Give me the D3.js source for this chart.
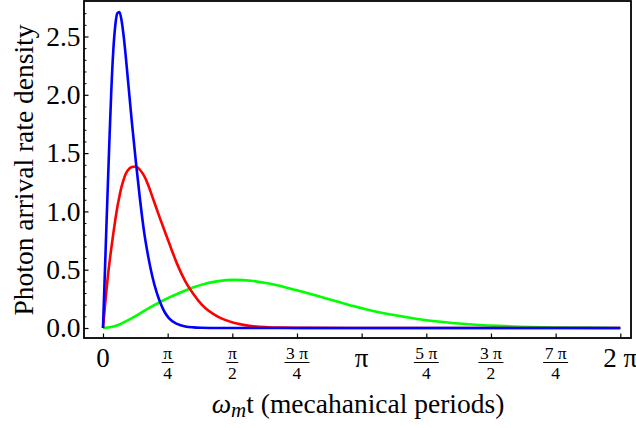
<!DOCTYPE html>
<html>
<head>
<meta charset="utf-8">
<script src="https://cdn.jsdelivr.net/npm/d3@7"></script>
<style>
  body { margin: 0; background: #fff; }
</style>
</head>
<body>
<div id="chart"></div>
<script>
// curves (t in radians, density)
var blueT = [0, 0.02, 0.04, 0.06, 0.08, 0.1, 0.125, 0.15, 0.175, 0.2, 0.225, 0.25, 0.275, 0.3, 0.35, 0.4, 0.45, 0.5, 0.55, 0.6, 0.65, 0.7, 0.75, 0.8, 0.9, 1.0, 1.1, 1.2, 1.4, 2.0, 3.0, 4.0, 5.0, 6.2832];
var blueV = [0, 0.42, 0.84, 1.25, 1.65, 2.02, 2.38, 2.60, 2.70, 2.71, 2.64, 2.51, 2.34, 2.15, 1.77, 1.42, 1.10, 0.82, 0.61, 0.44, 0.31, 0.21, 0.135, 0.085, 0.035, 0.013, 0.005, 0.002, 0, 0, 0, 0, 0, 0];

var redT = [0, 0.02, 0.04, 0.06, 0.08, 0.1, 0.125, 0.15, 0.175, 0.2, 0.225, 0.25, 0.275, 0.3, 0.35, 0.4, 0.45, 0.5, 0.55, 0.6, 0.65, 0.7, 0.75, 0.8, 0.9, 1.0, 1.1, 1.2, 1.4, 1.6, 1.8, 2.0, 2.2, 2.4, 3.0, 4.0, 5.0, 6.2832];
var redV = [0, 0.16, 0.31, 0.45, 0.57, 0.68, 0.81, 0.93, 1.04, 1.13, 1.21, 1.27, 1.32, 1.35, 1.38, 1.385, 1.355, 1.305, 1.225, 1.125, 1.025, 0.925, 0.83, 0.735, 0.55, 0.40, 0.29, 0.20, 0.095, 0.043, 0.017, 0.007, 0.003, 0.001, 0, 0, 0, 0];

var greenT = [0, 0.1, 0.2, 0.3, 0.4, 0.5, 0.6, 0.7, 0.8, 0.9, 1.0, 1.1, 1.2, 1.4, 1.6, 1.8, 2.0, 2.2, 2.4, 2.6, 2.8, 3.0, 3.2, 3.5, 3.8, 4.1, 4.4, 4.8, 5.2, 5.6, 6.0, 6.2832];
var greenV = [0, 0.008, 0.03, 0.065, 0.105, 0.147, 0.187, 0.225, 0.26, 0.292, 0.322, 0.349, 0.372, 0.402, 0.413, 0.405, 0.383, 0.352, 0.315, 0.276, 0.236, 0.196, 0.158, 0.115, 0.08, 0.053, 0.034, 0.018, 0.008, 0.003, 0.001, 0];

var yTicks = [0, 0.5, 1.0, 1.5, 2.0, 2.5];
var xTicks = [0, 1, 2, 3, 4, 5, 6, 7, 8].map(k => k * Math.PI / 4);
var xTickNum = ["0", "π", "π", "3 π", "π", "5 π", "3 π", "7 π", "2 π"];
var xTickDen = [null, "4", "2", "4", null, "4", "2", "4", null];

var serif = "'Liberation Serif', 'Times New Roman', Times, 'DejaVu Serif', serif";
var width = 636, height = 428;
var frame = { left: 84, right: 631, top: 1, bottom: 338 };

var svg = d3.select("#chart").append("svg")
  .attr("width", width).attr("height", height)
  .style("font-family", serif);

var x = d3.scaleLinear().domain([0, 2 * Math.PI]).range([103, 620.3]);
var y = d3.scaleLinear().domain([0, 2.5]).range([328, 36.5]);

function label(px, py, size, str) {
  return svg.append("text")
    .attr("x", px).attr("y", py)
    .attr("font-family", serif)
    .attr("font-size", size)
    .attr("fill", "#000")
    .attr("text-anchor", "middle")
    .text(str);
}

// ticks on the left, pointing inward
var minor = d3.range(0, 2.76, 0.1).filter(v => Math.abs(v * 2 - Math.round(v * 2)) > 1e-6);
svg.append("g")
  .attr("transform", `translate(${frame.left},0)`)
  .call(d3.axisLeft(y).tickValues(minor).tickSize(-2.5).tickFormat(""))
  .call(g => g.select(".domain").remove())
  .call(g => g.selectAll("line").attr("stroke-width", 1));
svg.append("g")
  .attr("transform", `translate(${frame.left},0)`)
  .call(d3.axisLeft(y).tickValues(yTicks).tickSize(-4.5).tickFormat(""))
  .call(g => g.select(".domain").remove())
  .call(g => g.selectAll("line").attr("stroke-width", 1.2));

yTicks.forEach(function(d) {
  label(80.5, y(d), 27.5, d.toFixed(1))
    .attr("dy", "0.34em")
    .attr("text-anchor", "end");
});

// ticks on the bottom, pointing inward
svg.append("g")
  .attr("transform", `translate(0,${frame.bottom})`)
  .call(d3.axisBottom(x).tickValues(xTicks).tickSize(-4.5).tickFormat(""))
  .call(g => g.select(".domain").remove())
  .call(g => g.selectAll("line").attr("stroke-width", 1.2));

// tick labels: plain or stacked fractions
xTicks.forEach(function(t, i) {
  var cx = x(t);
  if (xTickDen[i] === null) {
    label(cx, 367, 27, xTickNum[i]);
  } else {
    var num = label(cx, 359, 17.5, xTickNum[i]);
    label(cx, 378.5, 17.5, xTickDen[i]);
    var w = num.node().getComputedTextLength() + 3;
    svg.append("line")
      .attr("x1", cx - w / 2).attr("x2", cx + w / 2)
      .attr("y1", 362.5).attr("y2", 362.5)
      .attr("stroke", "#000").attr("stroke-width", 1);
  }
});

// curves
var line = d3.line()
  .x(d => x(d[0]))
  .y(d => y(d[1]))
  .curve(d3.curveMonotoneX);

var series = [
  { t: greenT, v: greenV, color: "#00ff00" },
  { t: redT, v: redV, color: "#ff0000" },
  { t: blueT, v: blueV, color: "#0000ff" }
];

svg.selectAll("path.curve")
  .data(series)
  .enter()
  .append("path")
  .attr("class", "curve")
  .attr("fill", "none")
  .attr("stroke", d => d.color)
  .attr("stroke-width", 2.6)
  .attr("stroke-linejoin", "round")
  .attr("d", d => line(d.t.map((t, i) => [t, d.v[i]])));

// frame
svg.append("rect")
  .attr("x", frame.left).attr("y", frame.top)
  .attr("width", frame.right - frame.left)
  .attr("height", frame.bottom - frame.top)
  .attr("fill", "none")
  .attr("stroke", "#000")
  .attr("stroke-width", 1.8);

// axis titles
var xTitle = label(358, 413, 27.5, null);
xTitle.append("tspan").attr("font-style", "italic").text("ω");
xTitle.append("tspan").attr("font-style", "italic").attr("font-size", 21).attr("dy", 4).text("m");
xTitle.append("tspan").attr("dy", -4).text("t (mecahanical periods)");

label(0, 0, 27.5, "Photon arrival rate density")
  .attr("transform", "translate(33,170) rotate(-90)");
</script>
</body>
</html>
